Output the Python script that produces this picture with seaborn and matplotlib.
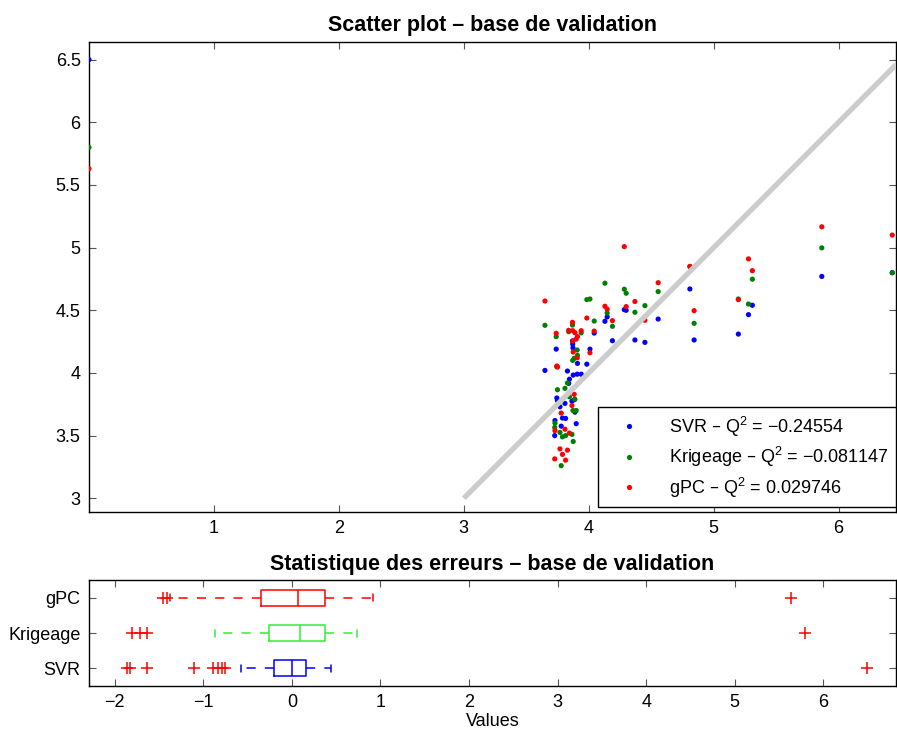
import matplotlib
matplotlib.use("Agg")
import numpy as np
import pandas as pd
import seaborn as sns
import matplotlib.pyplot as plt
from matplotlib.ticker import FuncFormatter

# ---------------- data ----------------
y_true = [0.000, 3.650, 3.728, 3.730, 3.740, 3.745, 3.750, 3.770, 3.780, 3.790,
          3.810, 3.815, 3.830, 3.840, 3.846, 3.866, 3.870, 3.872, 3.874, 3.876,
          3.884, 3.890, 3.900, 3.908, 3.910, 3.940, 3.985, 4.010, 4.044, 4.130,
          4.148, 4.190, 4.285, 4.300, 4.370, 4.450, 4.556, 4.810, 4.844, 5.198,
          5.279, 5.310, 5.866, 6.430]
pred_svr = [6.500, 4.020, 3.500, 3.620, 4.190, 3.800, 3.780, 3.730, 3.575, 3.640,
            3.757, 3.637, 4.015, 3.917, 3.950, 3.775, 4.255, 4.230, 4.200, 3.983,
            3.786, 3.687, 3.595, 3.990, 4.076, 3.990, 4.070, 4.190, 4.318, 4.412,
            4.447, 4.257, 4.505, 4.500, 4.263, 4.244, 4.430, 4.670, 4.263, 4.310,
            4.465, 4.540, 4.770, 4.800]
pred_krig = [5.800, 4.380, 3.565, 3.600, 4.290, 4.050, 3.866, 3.525, 3.260, 3.490,
             3.877, 3.500, 3.920, 4.329, 3.810, 3.510, 4.382, 4.100, 3.700, 3.453,
             4.116, 3.790, 3.700, 4.183, 4.140, 4.320, 4.585, 4.590, 4.414, 4.716,
             4.478, 4.372, 4.668, 4.636, 4.484, 4.537, 4.649, 4.848, 4.396, 4.590,
             4.550, 4.748, 4.998, 4.800]
pred_gpc = [5.630, 4.574, 3.314, 3.540, 4.316, 4.055, 4.047, 3.394, 3.680, 3.350,
            3.551, 3.304, 3.384, 4.340, 3.520, 3.740, 4.404, 4.337, 4.255, 4.167,
            3.829, 4.321, 4.270, 4.121, 4.290, 4.337, 4.438, 4.161, 4.334, 4.532,
            4.508, 4.417, 5.008, 4.529, 4.570, 4.420, 4.720, 4.850, 4.497, 4.585,
            4.910, 4.816, 5.166, 5.100]

methods = ["SVR", "Krigeage", "gPC"]
q2_labels = ["SVR – Q$^2$ = −0.24554",
             "Krigeage – Q$^2$ = −0.081147",
             "gPC – Q$^2$ = 0.029746"]
scatter_colors = ["#0000ff", "#008000", "#ff0000"]
diag_line = [3.0, 6.46]

# box-plot statistics of the errors (bottom to top: SVR, Krigeage, gPC)
box_q1 = [-0.207, -0.256, -0.350]
box_med = [0.000, 0.094, 0.075]
box_q3 = [0.161, 0.376, 0.370]
box_whislo = [-0.576, -0.866, -1.380]
box_whishi = [0.440, 0.733, 0.920]
box_fliers = [[-1.86, -1.83, -1.63, -1.10, -0.885, -0.83, -0.79, -0.75, 6.49],
              [-1.80, -1.71, -1.63, 5.79],
              [-1.46, -1.41, 5.63]]
box_colors = ["#0000ff", "#33ee33", "#ff0000"]

# ---------------- style ----------------
sns.set_style("ticks")
plt.rcParams["font.family"] = ["Liberation Sans", "DejaVu Sans"]
plt.rcParams["mathtext.default"] = "regular"
plt.rcParams["axes.linewidth"] = 1.0
plt.rcParams["axes.edgecolor"] = "black"
plt.rcParams["text.color"] = "black"
plt.rcParams["axes.labelcolor"] = "black"
plt.rcParams["axes.titlecolor"] = "black"
plt.rcParams["xtick.labelcolor"] = "black"
plt.rcParams["ytick.labelcolor"] = "black"

fig = plt.figure(figsize=(8.97, 7.32), dpi=100)
ax1 = fig.add_axes([0.0992, 0.3005, 0.8997, 0.642])
ax2 = fig.add_axes([0.0992, 0.0628, 0.8997, 0.1448])

# ---------------- scatter ----------------
df = pd.DataFrame({
    "true": np.tile(y_true, 3),
    "pred": np.concatenate([pred_svr, pred_krig, pred_gpc]),
    "label": np.repeat(q2_labels, len(y_true)),
})
sns.scatterplot(data=df, x="true", y="pred", hue="label", hue_order=q2_labels,
                palette=scatter_colors, s=14, linewidth=0, ax=ax1, zorder=3)
ax1.plot(diag_line, diag_line, color="#cccccc", lw=3.8,
         solid_capstyle="butt", zorder=5)

ax1.set_xlim(0, 6.46)
ax1.set_ylim(2.89, 6.64)
ax1.set_xticks([1, 2, 3, 4, 5, 6])
ax1.set_yticks([3, 3.5, 4, 4.5, 5, 5.5, 6, 6.5])
fmt = FuncFormatter(lambda v, p: ("%g" % v).replace("-", "−"))
ax1.xaxis.set_major_formatter(fmt)
ax1.yaxis.set_major_formatter(fmt)
ax1.set_xlabel("")
ax1.set_ylabel("")
ax1.tick_params(direction="in", top=True, right=True, length=5, width=0.8,
                color="#555555", labelcolor="black", labelsize=13, pad=6)
ax1.set_title("Scatter plot – base de validation", fontsize=15.5,
              fontweight="bold", pad=8, color="black")
for sp in ax1.spines.values():
    sp.set_visible(True)
    sp.set_color("black")

handles, labels = ax1.get_legend_handles_labels()
for h in handles:
    try:
        h.set_sizes([10])
    except Exception:
        pass
leg = ax1.legend(handles, labels, loc="lower right",
                 bbox_to_anchor=(0.9995, 0.011), borderaxespad=0,
                 fontsize=13, frameon=True, fancybox=False, framealpha=1,
                 edgecolor="black", labelspacing=0.35, handletextpad=0.9,
                 borderpad=0.4, handlelength=2.6, markerscale=1.0,
                 labelcolor="black")
leg.get_frame().set_linewidth(1.0)
leg.set_zorder(10)

# ---------------- box plot ----------------
stats = []
for i, m in enumerate(methods):
    stats.append(dict(label=m, q1=box_q1[i], med=box_med[i], q3=box_q3[i],
                      whislo=box_whislo[i], whishi=box_whishi[i],
                      fliers=box_fliers[i]))
res = ax2.bxp(stats, positions=[1, 2, 3], widths=0.45, orientation="horizontal",
              showfliers=True, capwidths=0.2, manage_ticks=False)
for i, c in enumerate(box_colors):
    res["boxes"][i].set_color(c)
    res["boxes"][i].set_linewidth(1.1)
    res["medians"][i].set_color(c)
    res["medians"][i].set_linewidth(1.1)
    for w in res["whiskers"][2 * i:2 * i + 2]:
        w.set_color(c)
        w.set_linewidth(1.1)
        w.set_linestyle((0, (6, 6)))
    for cp in res["caps"][2 * i:2 * i + 2]:
        cp.set_color(c)
        cp.set_linewidth(1.1)
    fl = res["fliers"][i]
    fl.set_marker("+")
    fl.set_markeredgecolor("#ff0000")
    fl.set_markersize(9)
    fl.set_markeredgewidth(1.1)

ax2.set_xlim(-2.29, 6.82)
ax2.set_ylim(0.5, 3.5)
ax2.set_yticks([1, 2, 3])
ax2.set_yticklabels(methods)
ax2.set_xticks([-2, -1, 0, 1, 2, 3, 4, 5, 6])
ax2.xaxis.set_major_formatter(fmt)
ax2.tick_params(direction="in", top=True, right=True, length=5, width=0.8,
                color="#555555", labelcolor="black", labelsize=13, pad=6)
ax2.set_xlabel("Values", fontsize=13, labelpad=1, color="black")
ax2.set_title("Statistique des erreurs – base de validation", fontsize=15.5,
              fontweight="bold", pad=7, color="black")
for sp in ax2.spines.values():
    sp.set_visible(True)
    sp.set_color("black")

fig.savefig("out.png", dpi=100)
